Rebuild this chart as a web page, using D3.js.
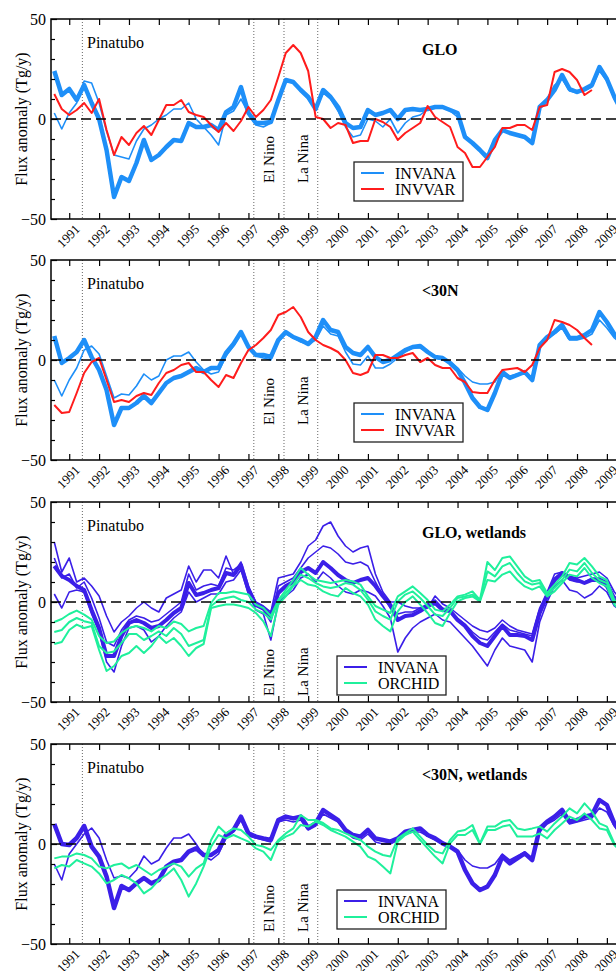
<!DOCTYPE html>
<html>
<head>
<meta charset="utf-8">
<script src="https://cdn.jsdelivr.net/npm/d3@7"></script>
<style>
  body { margin: 0; background: #fff; }
  svg { display: block; font-family: "Liberation Serif", "Times New Roman", serif; }
</style>
</head>
<body>
<div id="chart-area"></div>
<script>
// Eje temporal trimestral (años decimales)
const years = [
  1990.5, 1990.75,
  1991, 1991.25, 1991.5, 1991.75, 1992, 1992.25, 1992.5, 1992.75,
  1993, 1993.25, 1993.5, 1993.75, 1994, 1994.25, 1994.5, 1994.75,
  1995, 1995.25, 1995.5, 1995.75, 1996, 1996.25, 1996.5, 1996.75,
  1997, 1997.25, 1997.5, 1997.75, 1998, 1998.25, 1998.5, 1998.75,
  1999, 1999.25, 1999.5, 1999.75, 2000, 2000.25, 2000.5, 2000.75,
  2001, 2001.25, 2001.5, 2001.75, 2002, 2002.25, 2002.5, 2002.75,
  2003, 2003.25, 2003.5, 2003.75, 2004, 2004.25, 2004.5, 2004.75,
  2005, 2005.25, 2005.5, 2005.75, 2006, 2006.25, 2006.5, 2006.75,
  2007, 2007.25, 2007.5, 2007.75, 2008, 2008.25, 2008.5, 2008.75,
  2009, 2009.25, 2009.5
];

const yearTicks = [1991, 1992, 1993, 1994, 1995, 1996, 1997, 1998, 1999, 2000,
                   2001, 2002, 2003, 2004, 2005, 2006, 2007, 2008, 2009];
const yTicks = [-50, 0, 50];
const yMinorTicks = [-40, -30, -20, -10, 10, 20, 30, 40];

const eventYears = [1991.44, 1997.18, 1998.19, 1999.32];
const eventNames = ["Pinatubo", "El Nino", "La Nina"];

const panelTitles = ["GLO", "<30N", "GLO, wetlands", "<30N, wetlands"];
const legendNames = [["INVANA", "INVVAR"], ["INVANA", "INVVAR"], ["INVANA", "ORCHID"], ["INVANA", "ORCHID"]];

// --- GLO ---
const gloInvana = [
  24, 12,
  15, 9.5, 17, 8,
  0, -15.5, -39, -29,
  -31, -22, -10.5, -20.5,
  -18, -14, -10.5, -11,
  -2, -4, -4, -3,
  -5.5, 3.5, 6, 16,
  3, -2, -2, -1.5,
  9.5, 19.5, 18.5, 14.5,
  11, 5, 14.5, 11,
  6, -2, -4.5, -4,
  4.5, 2, 3, 4.5,
  0, 4.5, 5, 4.5,
  5, 6, 6, 4.5,
  3, -9, -12, -15.5,
  -19.5, -10.5, -5.5, -7,
  -8, -9, -12, 6,
  9.5, 14.5, 22, 15,
  13.5, 15, 17, 26,
  20, 11, 4
];
const gloInvanaAlt = [
  3, -5,
  3, 8, 19, 18,
  8, -6, -18, -19,
  -20, -11, -5, -3,
  0, 2, 5, 5,
  8, 0, -4, -8,
  -13, 2, 4, 10,
  3, -3, -4, -2,
  10, 20, 18, 14,
  10, 5, 13, 10,
  4, -4, -9, -8,
  0, -1, -4, 0,
  -7, -2, 1, 2,
  5, 6, 6, 4,
  1, -8, -12, -15,
  -18, -10, -6, -7,
  -8, -9, -11, 5,
  10, 17, 20, 14,
  13, 14, 16, 24,
  19, 10, 4
];
const gloInvvar = [
  12.5, 5,
  2, 4.5, 8, 3,
  10, -5.5, -18, -9,
  -13, -7, -3.5, -8,
  -0.5, 7, 7, 9.5,
  3.5, 2, 1, -3,
  -6.5, -2, -6, -1,
  6, 1, 4.5, 9.5,
  21, 33, 37, 33,
  24, 1, 0, -4.5,
  -2, -3, -12, -11,
  -11, 0, -1.5, -4,
  -10.5, -7, -4.5, -2,
  6.5, 1, -1.5, -4,
  -14, -17, -24, -24,
  -19, -14, -4.5, -4.5,
  -3, -3, -5.5, 6,
  7, 23.5, 25, 23.5,
  19.5, 12, 14.5, null,
  null, null, null
];

// --- <30N ---
const n30Invana = [
  12, -1.5,
  1, 4, 10, 1.5,
  -5, -15, -32.5, -24,
  -24, -21.5, -18, -21.5,
  -16.5, -11.5, -9, -8,
  -6, -4, -6, -4,
  -4, 3.5, 8, 14,
  6.5, 2.5, 2.5, 1.5,
  10, 14, 11.5, 10,
  8, 11.5, 20, 15,
  14, 6.5, 3.5, 2.5,
  6.5, 1.5, -1, 0,
  2.5, 5, 6.5, 7,
  4, 1.5, 1, -1.5,
  -5, -11.5, -19, -23.5,
  -25, -16.5, -6.5, -9,
  -7.5, -6, -10, 7.5,
  11.5, 14, 17.5, 11,
  11, 12.5, 15, 24,
  19, 13, 9
];
const n30InvanaAlt = [
  -10, -18,
  -10, -4, 5, 7,
  3, -8, -19, -17,
  -17.5, -13, -7, -10,
  -8, 0, 2, 2,
  4, -1, -5, -7,
  -6, 2, 7, 13,
  6, 2, 1, 0,
  9, 13, 11, 9,
  8, 10, 17, 13,
  12, 4, -2, -2.5,
  2, -4, -4, -2,
  1, 4, 6, 6,
  4, 1, 0, -1,
  -4, -8, -11, -12,
  -12, -11, -5, -8,
  -7, -6, -9, 6,
  10, 13, 16, 10,
  10, 11, 13, 20,
  16, 11, 8
];
const n30Invvar = [
  -22.5, -26.5,
  -26, -16.5, -6.5, -1,
  1, -10, -21, -20,
  -21, -18, -16.5, -17.5,
  -11.5, -6.5, -5, -2.5,
  -1.5, -6, -6, -10,
  -13.5, -7.5, -9, -1.5,
  5, 7.5, 11, 15,
  22.5, 24, 26.5, 21.5,
  14, 10, 7.5, 6,
  4, 0, -6.5, -7.5,
  -6, 2.5, 2.5, 1,
  1, 2.5, 3.5, -1,
  1, -2.5, -4, -4,
  -9, -11, -16, -16.5,
  -16.5, -10, -5, -4.5,
  -4, -6, -2.5, 6,
  10, 20, 19, 17.5,
  15, 11, 7.5, null,
  null, null, null
];

// --- GLO, wetlands ---
const wetInvana = [
  18, 13,
  11, 8, 6, -4,
  -13, -27, -27, -17,
  -10.5, -9, -10.5, -13,
  -12, -9, -5.5, -3,
  9.5, 3.5, 4.5, 6,
  7, 14.5, 13.5, 18.5,
  6, -1.5, -3, -7,
  4.5, 8, 10, 15,
  17, 14.5, 20, 17,
  13.5, 11, 9.5, 11,
  12, 8, 3, -1.5,
  -9, -7, -6.5, -4.5,
  -2, -0.5, -4, -4.5,
  -9, -12, -17, -20.5,
  -22, -17, -12, -16.5,
  -16.5, -17, -19, -5.5,
  3, 11, 14.5, 12,
  11, 9.5, 11, 11,
  8, 1, -2
];
const wetInvanaHi = [
  30, 15,
  22, 10, 12, 8,
  3, -7, -15, -10,
  -7, -3, 0, -3,
  -5, 2, 4, 6,
  18, 10, 16, 16,
  12, 23, 14, 20,
  8, 0, -2, -5,
  12, 13, 14, 20,
  28, 31, 38, 40,
  33, 28, 25, 27,
  28, 14, 5, 0,
  0, -2, -3, -3,
  -3, 3, -1, -3,
  -6, -9, -12, -14,
  -15, -13, -9, -12,
  -14, -15, -16, -3,
  5, 14, 15, 13,
  12, 13, 14, 15,
  12, 5, 1
];
const wetInvanaMid = [
  22, 12,
  14, 7, 10, 2,
  -8, -20, -22, -14,
  -9, -7, -8, -10,
  -9, -6, -3, 0,
  14, 6, 8, 9,
  8, 17, 16, 19,
  6, -2, -4, -10,
  8, 10, 12, 17,
  22, 25, 28, 27,
  24, 20, 19, 20,
  18, 10, 3, -3,
  -6, -5, -5, -3,
  -1, 1, -3, -4,
  -8, -11, -15, -18,
  -19, -15, -11, -14,
  -15, -16, -17, -4,
  4, 12, 15, 11,
  10, 10, 12, 12,
  10, 3, -1
];
const wetInvanaLo = [
  4, -3,
  5, 6, 5, -6,
  -15, -30, -35, -22,
  -13, -12, -14, -20,
  -17, -12, -8, -5,
  5, 0, 2, 4,
  4, 10, 11, 16,
  4, -4, -6, -19,
  0, 3, 6, 12,
  14, 10, 15, 12,
  8, 5, 4, 6,
  5, 3, -2, -8,
  -25, -18, -13, -10,
  -8, -6, -9, -10,
  -14, -18, -22, -27,
  -32, -24, -18, -22,
  -23, -24, -30, -10,
  0, 8, 11, 6,
  5, 2, 4, 8,
  5, -2, -5
];
const wetOrchidA = [
  -10, -8.5,
  -6, -4.3, -6.3, -8.8,
  -17, -20.5, -19.7, -15.5,
  -13, -12, -13, -14.7,
  -12, -13, -9.7, -11,
  -14.7, -13, -12, -0.5,
  4.5, 4.5, 5.3, 4.5,
  3.7, -1.3, -3, -7,
  1, 6, 11, 17,
  13.7, 11, 10.3, 9.5,
  10.3, 11, 10.3, 8.7,
  2.8, -2, -3.8, -5.5,
  2.8, 5.3, 7.8, 4.5,
  1, -3.8, -4.7, -1.3,
  2.8, 3.7, 5.3, 1,
  20, 16, 22, 22.8,
  17.8, 12.8, 10.3, 11,
  4.5, 8.7, 12.8, 19.5,
  18.7, 22, 17.8, 12.8,
  11, 1, -3
];
const wetOrchidB = [
  -15, -14,
  -10, -8, -9.6, -10.5,
  -22, -25.5, -24.7, -20.5,
  -16, -16, -19, -17,
  -14.7, -17, -13, -16,
  -22, -20.5, -19, -2,
  1, 2, 2.8, 1,
  0, -3.8, -5.5, -8.8,
  0.3, 4.5, 8.7, 13.7,
  12, 9.5, 7.8, 7,
  7.8, 9.5, 8.7, 6,
  1.2, -4.7, -7, -8.8,
  0.3, 3.7, 5.3, 2,
  -2, -6.3, -7, -3,
  2, 2.8, 3.7, 0.7,
  15.3, 12.8, 17.8, 19.5,
  14.5, 10.3, 8.7, 9.5,
  3.7, 7, 11, 16.2,
  15.3, 19.5, 14.5, 11,
  9.5, 0.3, -3
];
const wetOrchidC = [
  -21, -20,
  -14, -11.3, -13, -12,
  -24, -34.5, -32, -27,
  -25.5, -22, -25.5, -22,
  -17, -20.5, -18, -22,
  -27, -23, -21, -3,
  -2, -1.3, -1.3, -2,
  -3, -5.5, -9.7, -17,
  -1.3, 2.8, 8, 11,
  8.7, 8, 5.3, 3.7,
  2.8, 7, 4.5, 2.8,
  -1.3, -8.8, -12, -14.7,
  -4.7, 0, 2.8, -1.3,
  -5.5, -10.5, -12, -5.5,
  0.3, 2, 2.8, 0.3,
  11, 10.3, 13.7, 15.3,
  11, 7.8, 6.2, 7.8,
  2.8, 5.3, 9.5, 13.7,
  12.8, 17, 12, 9.5,
  7.8, -1.3, -5
];

// --- <30N, wetlands ---
const wet30Invana = [
  10, 0,
  -0.5, 3, 9, -1.3,
  -6.3, -16.3, -32, -21,
  -23, -19.7, -17, -19.7,
  -18, -11.3, -8.8, -8,
  -3.8, -2.2, -5.5, -5.5,
  -3, 4.5, 7, 13.7,
  5.3, 3.7, 2.8, 2,
  12, 13.7, 12.8, 13.7,
  8, 10.3, 17, 14.5,
  12, 7, 4.5, 3.7,
  7, 2.8, 2, 1.2,
  2.8, 6.2, 7, 7.8,
  4.5, 2.8, 0.3, -1.3,
  -3.8, -13, -19.7, -23,
  -21.3, -15.5, -6.3, -9.7,
  -7.2, -4.7, -8, 7.8,
  11.2, 13.7, 17, 11.2,
  12, 13.7, 14.5, 22,
  19.5, 10.3, 5
];
const wet30InvanaAlt = [
  -10, -18,
  -5, 0, 5, 8,
  3, -8, -17, -16,
  -17, -13, -6, -10,
  -8, -2, 3, 3,
  5, 0, -6, -8,
  -5, 3, 6, 12,
  4, 3, 2, 1,
  11, 12, 11, 12,
  7, 9, 15, 13,
  11, 6, 3, 2,
  5, 1, 0, 0,
  2, 5, 6, 6,
  4, 2, 0, -1,
  -3, -8, -11, -12,
  -12, -10, -5, -8,
  -6, -4, -7, 6,
  10, 12, 15, 10,
  11, 12, 13, 18,
  16, 9, 4
];
const wet30OrchidA = [
  -7.2, -6.3,
  -6.3, -4.7, -5.5, -7.2,
  -11.3, -12.2, -10.5, -9.7,
  -12.2, -10.5, -13, -15.5,
  -13, -11.3, -9.7, -11.3,
  -16.3, -12.2, -9.7, 2,
  8.7, 5.3, 7.8, 7,
  3.7, -0.5, -1.3, -3,
  2, 5.3, 7.8, 14.5,
  12, 12, 10.5, 7.8,
  7, 5.3, 3.7, 2,
  -1.3, -3.8, -5.5, -6.3,
  2.8, 5.3, 7.8, 3.7,
  -0.5, -3.8, -4.7, 2,
  6.2, 7, 9.5, 0.3,
  8.7, 8.7, 11.2, 12,
  7.8, 7, 7.8, 8.7,
  6.2, 10.3, 13.7, 17.8,
  15.3, 20.3, 16.2, 10.3,
  8.7, 0.3, -3
];
const wet30OrchidB = [
  -12.2, -10.5,
  -11.3, -8, -9.7, -11.3,
  -14.7, -19.7, -18, -15.5,
  -17.2, -19.7, -24.7, -22.2,
  -18, -15.5, -12.2, -18,
  -26.3, -19.7, -11.3, -1.3,
  4.5, 2.8, 4.5, 2.8,
  1.2, -2.2, -3.8, -8,
  1.2, 3.7, 5.3, 9.5,
  8.7, 11.2, 9.5, 7,
  5.3, 3.7, 1.2, -1.3,
  -6.3, -8, -11.3, -14.7,
  1.2, 4.5, 6.2, 2,
  -2.2, -6.3, -9.7, 0.3,
  4.5, 4.5, 7, 0,
  7, 7, 8.7, 9.5,
  3.7, 3.7, 3.7, 5.3,
  2.8, 7, 10.3, 13.7,
  12, 15.3, 12, 7.8,
  7, -0.5, -4
];

// Estilos
const colInvana = "#1e8ff8";
const colInvvar = "#ff1c1c";
const colInvanaW = "#3b1fe8";
const colOrchid = "#1ff09c";

const panelSeries = [
  [ { v: gloInvanaAlt, c: colInvana, w: 1.6 }, { v: gloInvana, c: colInvana, w: 4.5 },
    { v: gloInvvar, c: colInvvar, w: 2 } ],
  [ { v: n30InvanaAlt, c: colInvana, w: 1.6 }, { v: n30Invana, c: colInvana, w: 4.5 },
    { v: n30Invvar, c: colInvvar, w: 2 } ],
  [ { v: wetInvanaHi, c: colInvanaW, w: 1.6 }, { v: wetInvanaMid, c: colInvanaW, w: 1.6 },
    { v: wetInvanaLo, c: colInvanaW, w: 1.6 }, { v: wetInvana, c: colInvanaW, w: 4 },
    { v: wetOrchidA, c: colOrchid, w: 2 }, { v: wetOrchidB, c: colOrchid, w: 2 },
    { v: wetOrchidC, c: colOrchid, w: 2 } ],
  [ { v: wet30InvanaAlt, c: colInvanaW, w: 1.6 }, { v: wet30Invana, c: colInvanaW, w: 4.5 },
    { v: wet30OrchidA, c: colOrchid, w: 2 }, { v: wet30OrchidB, c: colOrchid, w: 2 } ]
];
const legendColors = [[colInvana, colInvvar], [colInvana, colInvvar], [colInvanaW, colOrchid], [colInvanaW, colOrchid]];

// Posiciones de cada panel
const panelLayout = [
  { top: 19,  legendX: 354, legendY: 143, ninoY: 164 },
  { top: 260, legendX: 354, legendY: 143, ninoY: 165 },
  { top: 502, legendX: 337, legendY: 154, ninoY: 194 },
  { top: 744, legendX: 337, legendY: 146, ninoY: 188 }
];
const plotLeft = 51;
const pxPerYear = 29.87;
const plotH = 200;

const svg = d3.select("#chart-area")
  .append("svg")
  .attr("width", 616)
  .attr("height", 971);

const x = d3.scaleLinear()
  .domain([1990.39, 2009.7])
  .range([plotLeft, plotLeft + (2009.7 - 1990.39) * pxPerYear]);
const plotW = x.range()[1] - plotLeft;

const line = d3.line()
  .defined(d => d[1] != null)
  .x(d => x(d[0]));

panelLayout.forEach((L, i) => {
  const y = d3.scaleLinear().domain([-50, 50]).range([L.top + plotH, L.top]);
  line.y(d => y(d[1]));

  const g = svg.append("g");

  g.append("clipPath").attr("id", "clip" + i)
    .append("rect")
    .attr("x", plotLeft).attr("y", L.top)
    .attr("width", plotW).attr("height", plotH);

  // Líneas de eventos
  g.selectAll(".event")
    .data(eventYears)
    .enter().append("line")
    .attr("class", "event")
    .attr("x1", d => x(d)).attr("x2", d => x(d))
    .attr("y1", L.top).attr("y2", L.top + plotH)
    .attr("stroke", "#666")
    .attr("stroke-width", 1)
    .attr("stroke-dasharray", "1,2");

  // Series
  const plot = g.append("g").attr("clip-path", `url(#clip${i})`);
  panelSeries[i].forEach(s => {
    plot.append("path")
      .datum(years.map((yr, k) => [yr, s.v[k]]))
      .attr("fill", "none")
      .attr("stroke", s.c)
      .attr("stroke-width", s.w)
      .attr("stroke-linejoin", "round")
      .attr("d", line);
  });

  // Línea de cero
  g.append("line")
    .attr("x1", plotLeft).attr("x2", plotLeft + plotW)
    .attr("y1", y(0)).attr("y2", y(0))
    .attr("stroke", "#000")
    .attr("stroke-width", 1.6)
    .attr("stroke-dasharray", "10,5");

  // Ejes
  const xBottom = g.append("g")
    .attr("transform", `translate(0, ${L.top + plotH})`)
    .call(d3.axisBottom(x).tickValues(yearTicks).tickSizeInner(-6).tickSizeOuter(0)
      .tickFormat(d3.format("d")));
  xBottom.select(".domain").remove();
  xBottom.attr("font-family", null).attr("font-size", null);
  xBottom.selectAll("text")
    .attr("y", 0).attr("dy", null)
    .attr("transform", "translate(11, 11) rotate(-45)")
    .attr("text-anchor", "end")
    .style("font-size", "13px");

  const xTop = g.append("g")
    .attr("transform", `translate(0, ${L.top})`)
    .call(d3.axisTop(x).tickValues(yearTicks).tickSizeInner(-6).tickSizeOuter(0).tickFormat(""));
  xTop.select(".domain").remove();

  const yMinor = g.append("g")
    .attr("transform", `translate(${plotLeft}, 0)`)
    .call(d3.axisLeft(y).tickValues(yMinorTicks).tickSizeInner(-4).tickSizeOuter(0).tickFormat(""));
  yMinor.select(".domain").remove();

  const yMajor = g.append("g")
    .attr("transform", `translate(${plotLeft}, 0)`)
    .call(d3.axisLeft(y).tickValues(yTicks).tickSizeInner(-6).tickSizeOuter(0).tickPadding(5)
      .tickFormat(d3.format("d")));
  yMajor.select(".domain").remove();
  yMajor.attr("font-family", null).attr("font-size", null);
  yMajor.selectAll("text").style("font-size", "16px");

  g.selectAll(".tick line").attr("stroke", "#000").attr("stroke-width", 1.2);

  // Marco
  g.append("rect")
    .attr("x", plotLeft).attr("y", L.top)
    .attr("width", plotW).attr("height", plotH)
    .attr("fill", "none")
    .attr("stroke", "#000")
    .attr("stroke-width", 1.5);

  // Título del eje Y
  g.append("text")
    .attr("transform", `translate(27, ${L.top + plotH / 2}) rotate(-90)`)
    .attr("text-anchor", "middle")
    .style("font-size", "16px")
    .text("Flux anomaly (Tg/y)");

  // Etiquetas de eventos
  g.append("text")
    .attr("x", 87).attr("y", L.top + 29)
    .style("font-size", "16px")
    .text(eventNames[0]);

  g.append("text")
    .attr("transform", `translate(${x(eventYears[1]) + 20}, ${L.top + L.ninoY}) rotate(-90)`)
    .style("font-size", "15px")
    .text(eventNames[1]);

  g.append("text")
    .attr("transform", `translate(${x(eventYears[2]) + 24}, ${L.top + L.ninoY}) rotate(-90)`)
    .style("font-size", "15px")
    .text(eventNames[2]);

  // Título del panel
  g.append("text")
    .attr("x", 422).attr("y", L.top + 36)
    .style("font-size", "16px")
    .style("font-weight", "bold")
    .text(panelTitles[i]);

  // Leyenda
  const legend = g.append("g")
    .attr("transform", `translate(${L.legendX}, ${L.top + L.legendY})`);

  legend.append("rect")
    .attr("width", 109).attr("height", 39)
    .attr("fill", "#fff")
    .attr("stroke", "#222")
    .attr("stroke-width", 1.3);

  const legendGroup = legend.selectAll(".legendGroup")
    .data(legendNames[i])
    .enter().append("g")
    .attr("class", "legendGroup")
    .attr("transform", (d, k) => `translate(0, ${11 + k * 16})`);

  legendGroup.append("line")
    .attr("x1", 7).attr("x2", 30)
    .attr("stroke", (d, k) => legendColors[i][k])
    .attr("stroke-width", 2);

  legendGroup.append("text")
    .attr("x", 41).attr("y", 5.7)
    .style("font-size", "16px")
    .text(d => d);
});
</script>
</body>
</html>
